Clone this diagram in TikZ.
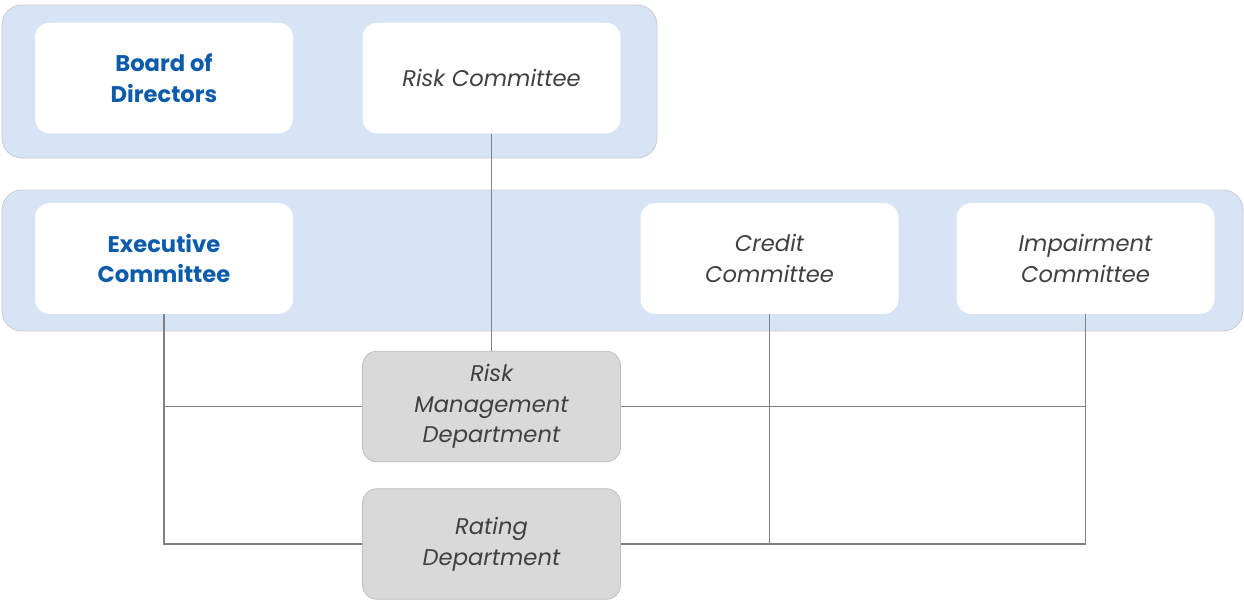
\documentclass[tikz,border=0pt]{standalone}
\usepackage{fontspec}
\setmainfont{Poppins}
\usepackage{tikz}

\definecolor{bandblue}{HTML}{D6E4F5}
\definecolor{headblue}{HTML}{0D5CAB}
\definecolor{txtgray}{HTML}{404040}
\definecolor{deptgray}{HTML}{D9D9D9}
\definecolor{linegray}{HTML}{808080}

\begin{document}
\begin{tikzpicture}[x=0.75pt,y=-0.75pt,
    band/.style={fill=bandblue,draw=black!20,line width=0.6pt,rounded corners=15pt},
    card/.style={fill=white,rounded corners=11pt,minimum width=193.5pt,minimum height=83pt,
        align=center,inner sep=0pt,font=\fontsize{17}{23}\selectfont},
    headcard/.style={card,text=headblue,font=\fontsize{17}{23}\selectfont\bfseries},
    comcard/.style={card,text=txtgray,font=\fontsize{17}{23}\selectfont\itshape},
    deptcard/.style={comcard,fill=deptgray,draw=black!25,line width=0.6pt},
    link/.style={draw=linegray,line width=0.9pt}]

\useasboundingbox (0,0) rectangle (1244,599);

% Bands
\path[band] (2,5) rectangle (657,158);
\path[band] (2,190) rectangle (1243,331);

% Committees
\node[headcard] (board)  at (164,78)  {Board of\\Directors};
\node[comcard]  (riskcom) at (491.5,78) {Risk Committee};
\node[headcard] (exec)   at (164,258.5) {Executive\\Committee};
\node[comcard]  (credit) at (769.5,258.5) {Credit\\Committee};
\node[comcard]  (impair) at (1085.5,258.5) {Impairment\\Committee};

% Departments
\node[deptcard] (rmd)    at (491.5,406.5) {Risk\\Management\\Department};
\node[deptcard] (rating) at (491.5,544) {Rating\\Department};

% Junctions
\coordinate (ej1) at (exec.south |- rmd.west);
\coordinate (ej2) at (exec.south |- rating.west);
\coordinate (ij1) at (impair.south |- rmd.east);
\coordinate (ij2) at (impair.south |- rating.east);
\coordinate (cj2) at (credit.south |- rating.east);

% Links
\draw[link] (riskcom.south) -- (rmd.north);
\draw[link] (exec.south) -- (ej2) -- (rating.west);
\draw[link] (ej1) -- (rmd.west);
\draw[link] (rmd.east) -- (ij1);
\draw[link] (rating.east) -- (ij2) -- (impair.south);
\draw[link] (credit.south) -- (cj2);

\end{tikzpicture}
\end{document}
